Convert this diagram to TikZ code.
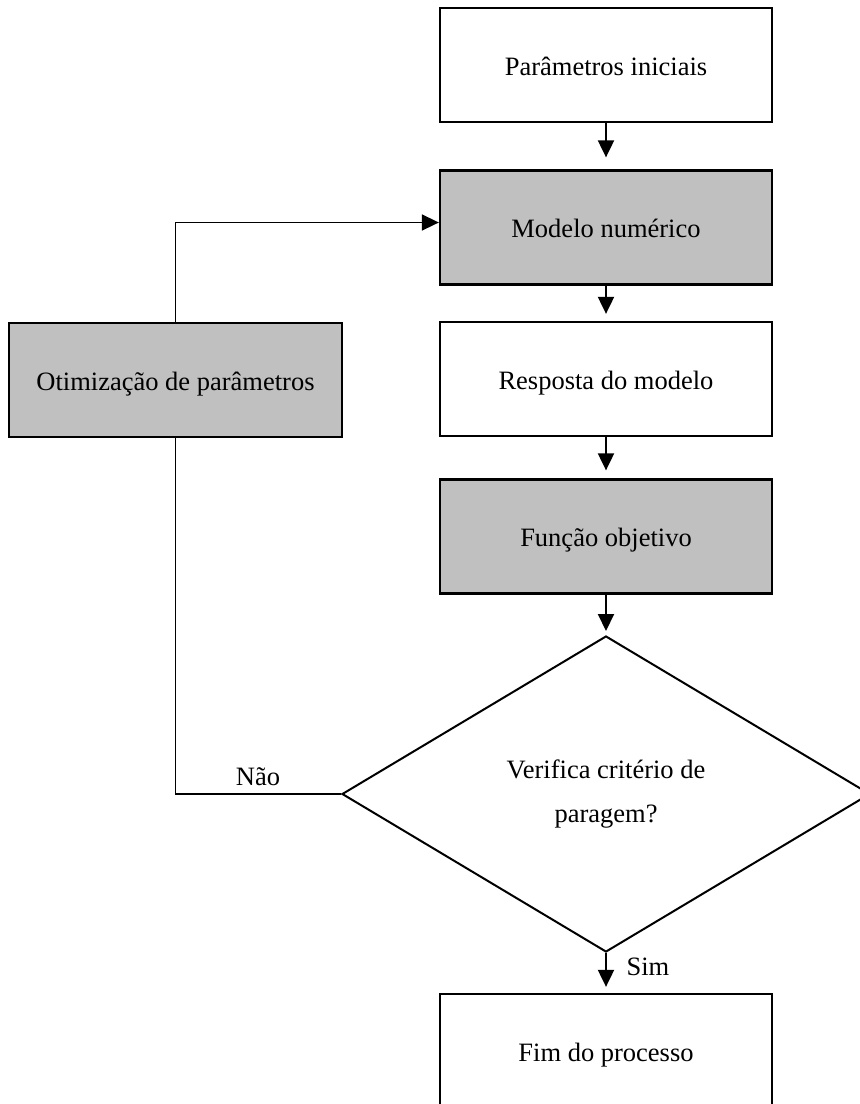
\documentclass[tikz,border=0pt]{standalone}
\usepackage{fontspec}
\setmainfont{Liberation Serif}
\usetikzlibrary{arrows.meta,shapes.geometric}
\definecolor{boxgray}{RGB}{192,192,192}
\begin{document}
\begin{tikzpicture}[x=1pt,y=1pt,
  font=\fontsize{26.5}{44}\selectfont,
  box/.style={draw=black,line width=2.3pt,rectangle,minimum width=332pt,minimum height=114pt,inner sep=0pt,fill=white,text height=24pt,text depth=4pt},
  graybox/.style={box,fill=boxgray},
  conn/.style={line width=2pt,-{Triangle[length=17pt,width=16pt]}},
  plain/.style={line width=1.6pt}]
\useasboundingbox (0,0) rectangle (860,-1104);
\node[box] (ini) at (606,-65) {Parâmetros iniciais};
\node[graybox] (mod) at (606,-227.5) {Modelo numérico};
\node[box] (resp) at (606,-379) {Resposta do modelo};
\node[graybox] (fob) at (606,-536.5) {Função objetivo};
\node[draw=black,line width=2pt,diamond,minimum width=528pt,minimum height=316pt,inner sep=0pt,align=center] (dec) at (606,-794) {Verifica critério de\\paragem?};
\node[box] (fim) at (606,-1051) {Fim do processo};
\node[graybox,minimum width=333pt] (opt) at (175.5,-380) {Otimização de parâmetros};
\draw[conn,shorten >=12pt] (ini.south) -- (mod.north);
\draw[conn,shorten >=7pt] (mod.south) -- (resp.north);
\draw[conn,shorten >=8pt] (resp.south) -- (fob.north);
\draw[conn,shorten >=4pt] (fob.south) -- (dec.north);
\draw[conn,shorten >=6pt] (dec.south) -- (fim.north);
\coordinate (topin) at ([yshift=5pt]mod.west);
\draw[conn,line width=1.6pt] (opt.north) |- (topin);
\draw[plain] (dec.west) -| (opt.south);
\node (nao) at (258,-777) {Não};
\node (sim) at (648,-967) {Sim};
\end{tikzpicture}
\end{document}
